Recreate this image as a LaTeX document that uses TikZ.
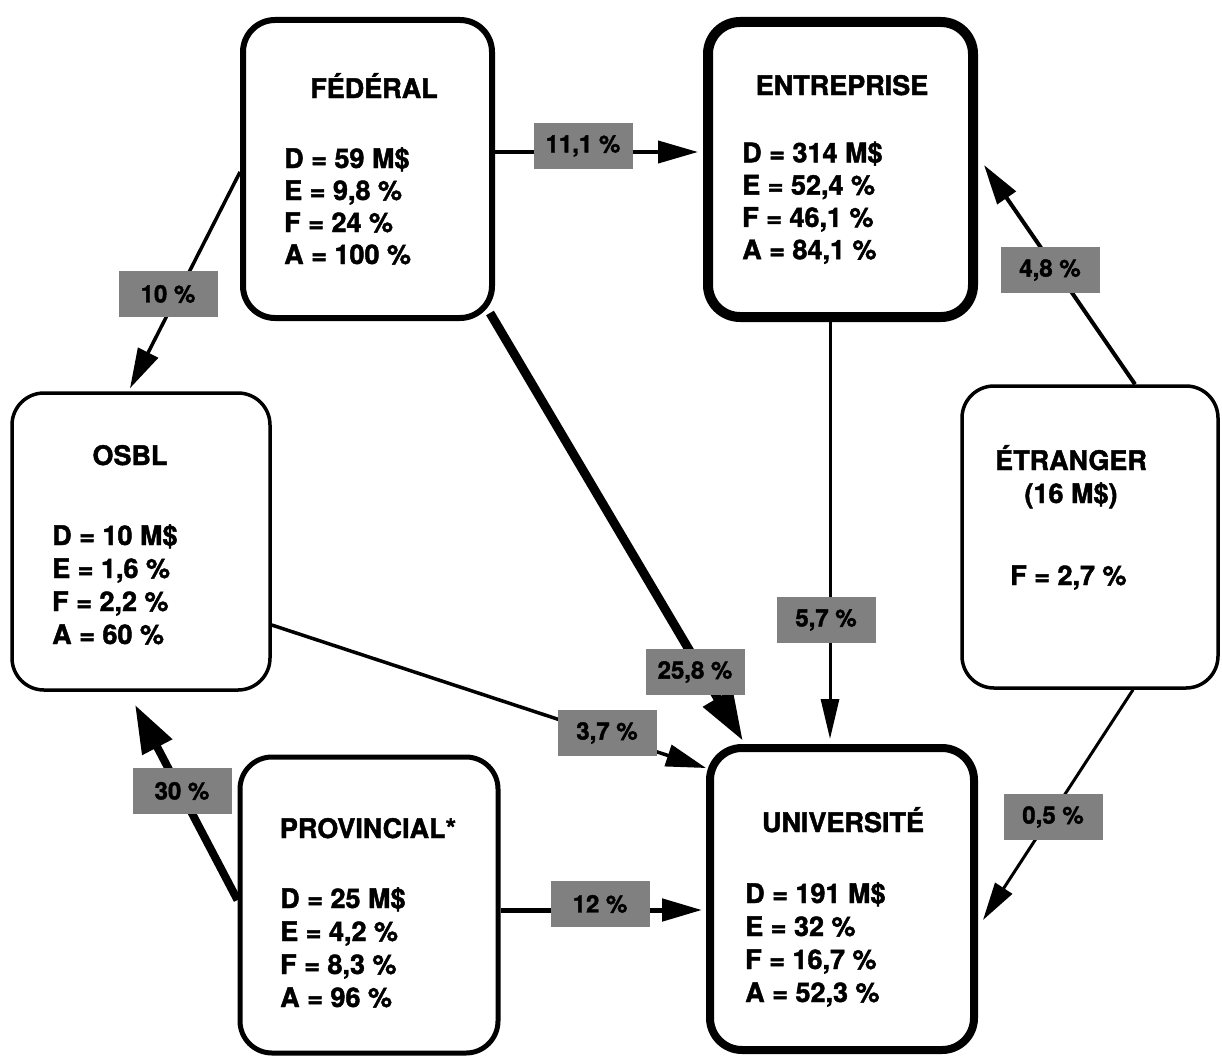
\documentclass[tikz,border=0pt]{standalone}
\usepackage{fontspec}
\setmainfont{TeX Gyre Heros}[BoldFeatures={FakeBold=1.6}]
\usetikzlibrary{arrows.meta,calc,backgrounds}
\begin{document}
\begin{tikzpicture}[x=1pt,y=-1pt,
  box/.style={draw, fill=white, rounded corners=32pt, inner sep=0pt},
  txt/.style={anchor=base west, inner sep=0pt, font=\fontsize{27}{32}\selectfont\bfseries},
  ttl/.style={anchor=base, inner sep=0pt, font=\fontsize{27}{32}\selectfont\bfseries},
  lbl/.style={fill=black!50, minimum width=99pt, minimum height=46pt, inner sep=0pt, font=\fontsize{24}{28}\selectfont\bfseries},
  flow/.style={draw, -{Triangle[length=40pt,width=22pt]}},
]
\useasboundingbox (0,0) rectangle (1222,1057);

% boxes
\node[box, line width=6pt, minimum width=249pt, minimum height=298pt] (fed) at (367.5,169) {};
\node[box, line width=10pt, minimum width=265pt, minimum height=295pt] (ent) at (840.5,169.5) {};
\node[box, line width=3.5pt, minimum width=258pt, minimum height=297pt] (osbl) at (141,541.5) {};
\node[box, line width=3.5pt, minimum width=256pt, minimum height=302pt] (etr) at (1090,537) {};
\node[box, line width=5pt, minimum width=258pt, minimum height=296pt] (prov) at (369,905) {};
\node[box, line width=8pt, minimum width=264pt, minimum height=302pt] (uni) at (842,899) {};

% connectors
\begin{pgfonlayer}{background}
\draw[flow, line width=4pt] ([shift={(0,-17)}]fed.east) -- ([shift={(-5,-17.5)}]ent.west);
\draw[flow, line width=3.5pt] ([shift={(0,3)}]fed.west) -- ([shift={(-11,-3)}]osbl.north);
\draw[flow, line width=9pt, -{Triangle[length=50pt,width=32pt]}] ([shift={(-5,-8)}]fed.south east) -- ([shift={(-99,-3)}]uni.north);
\draw[flow, line width=3.5pt] ([shift={(0,83.5)}]osbl.east) -- ([shift={(0,-131)}]uni.west);
\draw[flow, line width=3pt, -{Triangle[length=40pt,width=18pt]}] ([shift={(-10.5,0)}]ent.south) -- ([shift={(-12,-5)}]uni.north);
\draw[flow, line width=4pt] ([shift={(45,0)}]etr.north) -- ([shift={(6,-4.5)}]ent.east);
\draw[flow, line width=3pt, -{Triangle[length=38pt,width=20pt]}] ([shift={(43,0)}]etr.south) -- ([shift={(5,21)}]uni.east);
\draw[flow, line width=5pt] ([shift={(0,5)}]prov.east) -- ([shift={(-4,11)}]uni.west);
\draw[flow, line width=8pt, -{Triangle[length=48pt,width=32pt]}] ([shift={(0,-5)}]prov.west) -- ([shift={(-6,13)}]osbl.south);
\end{pgfonlayer}

% labels on connectors
\node[lbl] (l1) at (583,146) {11,1 \%};
\node[lbl] (l2) at (168,294) {10 \%};
\node[lbl] (l3) at (695,672) {25,8 \%};
\node[lbl] (l4) at (607,733) {3,7 \%};
\node[lbl] (l5) at (826,620) {5,7 \%};
\node[lbl] (l6) at (1050,270) {4,8 \%};
\node[lbl] (l7) at (1053,817) {0,5 \%};
\node[lbl] (l8) at (600,904) {12 \%};
\node[lbl] (l9) at (182,791) {30 \%};

% texts
\node[ttl] (fedt) at (374,98) {FÉDÉRAL};
\foreach \t [count=\i] in {{D = 59 M\$},{E = 9,8 \%},{F = 24 \%},{A = 100 \%}}
  \node[txt] (fed\i) at (284,136+32*\i) {\t};

\node[ttl] (entt) at (842,95) {ENTREPRISE};
\foreach \t [count=\i] in {{D = 314 M\$},{E = 52,4 \%},{F = 46,1 \%},{A = 84,1 \%}}
  \node[txt] (ent\i) at (742,130+32.3*\i) {\t};

\node[ttl] (osblt) at (130,465) {OSBL};
\foreach \t [count=\i] in {{D = 10 M\$},{E = 1,6 \%},{F = 2,2 \%},{A = 60 \%}}
  \node[txt] (osbl\i) at (52,512+33*\i) {\t};

\node[ttl] (etrt) at (1071,470) {ÉTRANGER};
\node[ttl] (etrs) at (1071,503) {(16 M\$)};
\node[txt] (etr1) at (1010,585) {F = 2,7 \%};

\node[ttl] (provt) at (368,838) {PROVINCIAL*};
\foreach \t [count=\i] in {{D = 25 M\$},{E = 4,2 \%},{F = 8,3 \%},{A = 96 \%}}
  \node[txt] (prov\i) at (280,875+33*\i) {\t};

\node[ttl] (unit) at (843,832) {UNIVERSITÉ};
\foreach \t [count=\i] in {{D = 191 M\$},{E = 32 \%},{F = 16,7 \%},{A = 52,3 \%}}
  \node[txt] (uni\i) at (745,870+33*\i) {\t};
\end{tikzpicture}
\end{document}
